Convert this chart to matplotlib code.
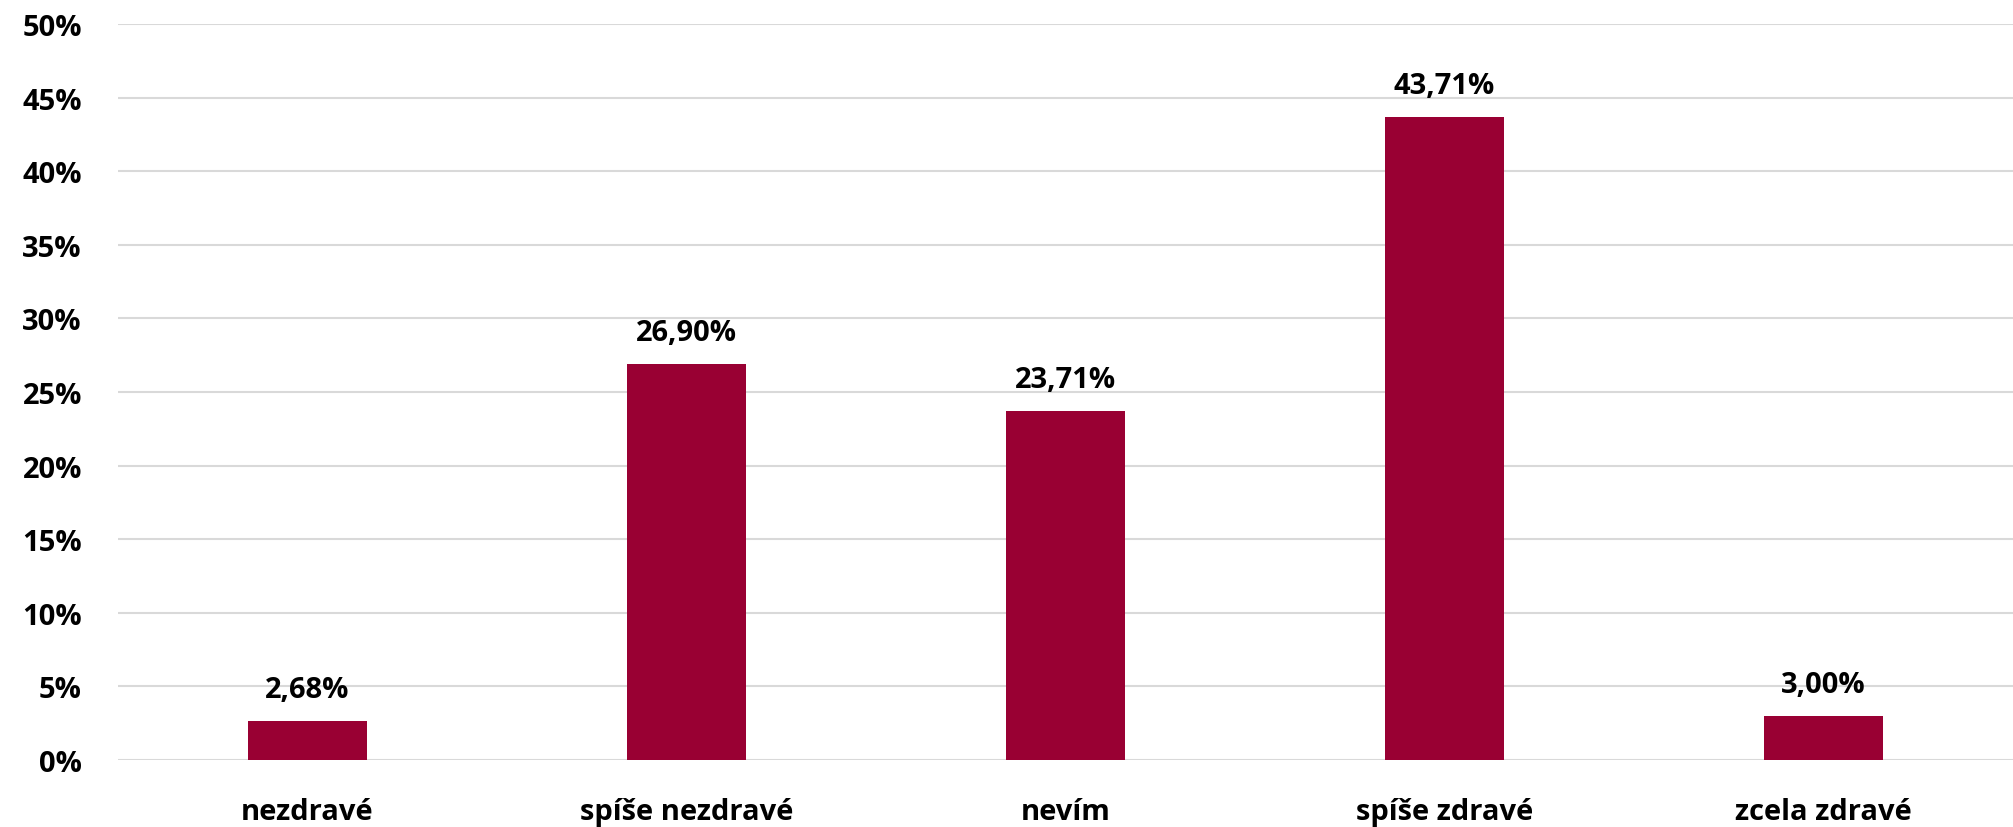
import matplotlib.pyplot as plt
from matplotlib.ticker import MultipleLocator, FuncFormatter

categories = ["nezdravé", "spíše nezdravé", "nevím", "spíše zdravé", "zcela zdravé"]
values = [2.68, 26.90, 23.71, 43.71, 3.00]

plt.rcParams['font.family'] = ['Open Sans', 'DejaVu Sans']
plt.rcParams['font.weight'] = 'bold'

fig = plt.figure(figsize=(20.13, 8.28), dpi=100)
ax = fig.add_axes([118 / 2013, 1 - 761 / 828, (2013 - 118) / 2013, (761 - 25) / 828])

x = range(len(categories))
ax.bar(x, values, width=0.314, color='#990033', zorder=3)

for xi, v in zip(x, values):
    ax.annotate(f"{v:.2f}%".replace('.', ','), (xi, v), xytext=(0, 12),
                textcoords='offset points', ha='center', va='bottom',
                fontsize=21, fontweight='bold')

ax.set_xlim(-0.5, len(categories) - 0.5)
ax.set_ylim(0, 50)
ax.yaxis.set_major_locator(MultipleLocator(5))
ax.yaxis.set_major_formatter(FuncFormatter(lambda v, p: f"{v:.0f}%"))
ax.grid(axis='y', color='#d9d9d9', linewidth=1.5, zorder=0)
ax.set_xticks(list(x))
ax.set_xticklabels(categories)
ax.tick_params(axis='both', length=0, labelsize=21)
ax.tick_params(axis='x', pad=27)
ax.tick_params(axis='y', pad=26)
for lbl in ax.get_xticklabels() + ax.get_yticklabels():
    lbl.set_fontweight('bold')
for s in ax.spines.values():
    s.set_visible(False)

fig.savefig("out.png", dpi=100)
